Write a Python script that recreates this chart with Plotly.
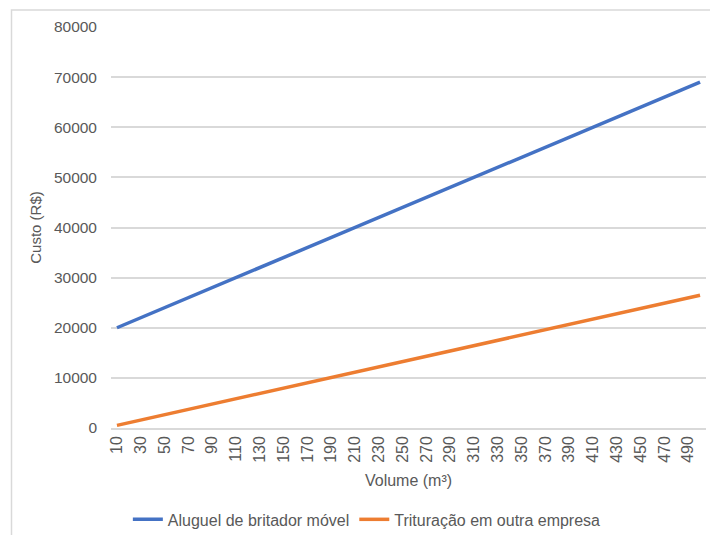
import plotly.graph_objects as go

volumes = ["10", "20", "30", "40", "50", "60", "70", "80", "90", "100",
           "110", "120", "130", "140", "150", "160", "170", "180", "190", "200",
           "210", "220", "230", "240", "250", "260", "270", "280", "290", "300",
           "310", "320", "330", "340", "350", "360", "370", "380", "390", "400",
           "410", "420", "430", "440", "450", "460", "470", "480", "490", "500"]

aluguel = [20000, 21000, 22000, 23000, 24000, 25000, 26000, 27000, 28000, 29000,
           30000, 31000, 32000, 33000, 34000, 35000, 36000, 37000, 38000, 39000,
           40000, 41000, 42000, 43000, 44000, 45000, 46000, 47000, 48000, 49000,
           50000, 51000, 52000, 53000, 54000, 55000, 56000, 57000, 58000, 59000,
           60000, 61000, 62000, 63000, 64000, 65000, 66000, 67000, 68000, 69000]

trituracao = [530, 1060, 1590, 2120, 2650, 3180, 3710, 4240, 4770, 5300,
              5830, 6360, 6890, 7420, 7950, 8480, 9010, 9540, 10070, 10600,
              11130, 11660, 12190, 12720, 13250, 13780, 14310, 14840, 15370, 15900,
              16430, 16960, 17490, 18020, 18550, 19080, 19610, 20140, 20670, 21200,
              21730, 22260, 22790, 23320, 23850, 24380, 24910, 25440, 25970, 26500]

x_tick_labels = ["10", "30", "50", "70", "90", "110", "130", "150", "170", "190",
                 "210", "230", "250", "270", "290", "310", "330", "350", "370", "390",
                 "410", "430", "450", "470", "490"]

y_ticks = [0, 10000, 20000, 30000, 40000, 50000, 60000, 70000, 80000]

FONT = "Liberation Sans, Arial, sans-serif"
TXT = "#595959"

fig = go.Figure()
fig.add_trace(go.Scatter(x=volumes, y=aluguel, mode="lines",
                         name="Aluguel de britador móvel",
                         line=dict(color="#4472C4", width=3.5)))
fig.add_trace(go.Scatter(x=volumes, y=trituracao, mode="lines",
                         name="Trituração em outra empresa",
                         line=dict(color="#ED7D31", width=3.5)))

fig.update_layout(
    width=710, height=535,
    margin=dict(l=111, r=4, t=27, b=107, autoexpand=False),
    paper_bgcolor="white", plot_bgcolor="white",
    font=dict(family=FONT, size=15, color=TXT),
    showlegend=True,
    legend=dict(orientation="h", x=0.43, xanchor="center", y=-0.228, yanchor="middle",
                font=dict(size=16, color=TXT), itemwidth=30, tracegroupgap=0),
    xaxis=dict(type="category", range=[-0.5, 49.5],
               tickmode="array", tickvals=x_tick_labels, ticktext=x_tick_labels,
               tickangle=-90, tickfont=dict(size=16, color=TXT),
               showgrid=False, showline=True, linecolor="#d9d9d9", linewidth=1.5,
               ticks="", ticklabelstandoff=0, automargin=False,
               title=dict(text="Volume (m³)", font=dict(size=16, color=TXT), standoff=13)),
    yaxis=dict(range=[0, 80000], tickvals=y_ticks, tickformat="d",
               tickfont=dict(size=15.5, color=TXT), automargin=False,
               showgrid=True, gridcolor="#d9d9d9", gridwidth=1.5,
               zeroline=False, showline=False, ticks="", ticklabelstandoff=13,
               title=dict(text="Custo (R$)", font=dict(size=15, color=TXT), standoff=8)),
    shapes=[dict(type="rect", xref="paper", yref="paper",
                 x0=(11.5 - 111) / 595, x1=(740 - 111) / 595,
                 y0=(428 - 560) / 401, y1=(428 - 10) / 401,
                 line=dict(color="#d9d9d9", width=1.5), layer="below")],
)

fig.write_html("out.html")
